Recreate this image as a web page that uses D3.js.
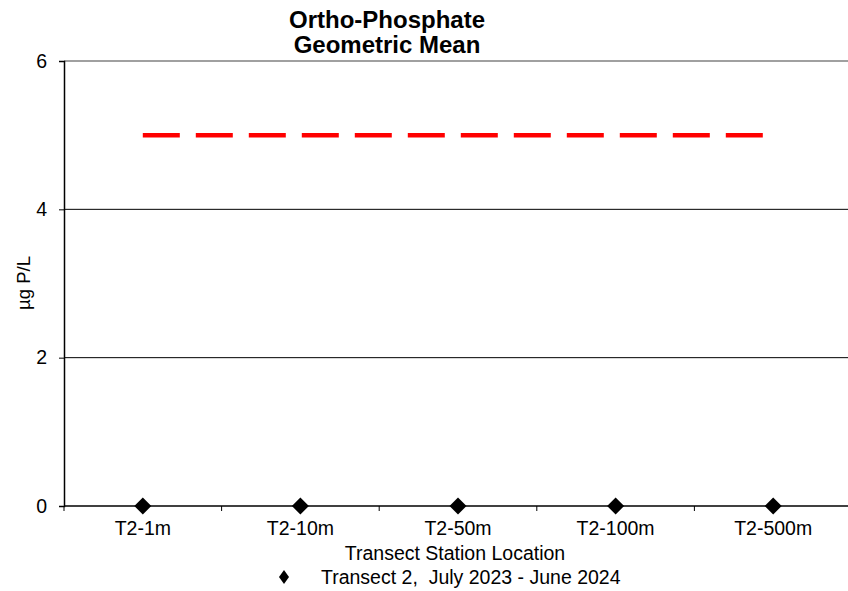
<!DOCTYPE html>
<html><head><meta charset="utf-8">
<script src="https://cdn.jsdelivr.net/npm/d3@7"></script>
<style>body{margin:0;background:#fff}svg{display:block}text{font-family:"Liberation Sans",Arial,sans-serif}</style>
</head><body>
<svg id="c" width="848" height="591"></svg>
<script>
const categories = ["T2-1m","T2-10m","T2-50m","T2-100m","T2-500m"];
const values = [0,0,0,0,0];
const thresholdValue = 5;
const yTicks = [0,2,4,6];
const seriesName = "Transect 2,  July 2023 - June 2024";

const svg = d3.select("#c");
const L=64, R=852, T=61, B=506;
const FS = 19.5;
const x = d3.scaleBand().domain(categories).range([L,R]);
const y = d3.scaleLinear().domain([0,6]).range([B,T]);

const diamondType = (hw,hh)=>({draw(ctx){ctx.moveTo(0,-hh);ctx.lineTo(hw,0);ctx.lineTo(0,hh);ctx.lineTo(-hw,0);ctx.closePath();}});

// gridlines
svg.append("g").selectAll("line").data(yTicks.filter(d=>d>0)).join("line")
  .attr("x1",L).attr("x2",848).attr("y1",d=>y(d)).attr("y2",d=>y(d))
  .attr("stroke",d=>d===6?"#808080":"#000").attr("stroke-width",d=>d===6?1.5:1);

// y axis
const ya = svg.append("g").attr("transform",`translate(${L},0)`)
  .call(d3.axisLeft(y).tickValues(yTicks).tickFormat(d3.format("d")).tickSize(5).tickPadding(12));
ya.select(".domain").attr("stroke","#000").attr("stroke-width",1.5);
ya.selectAll(".tick line").attr("stroke","#000");
ya.selectAll("text").attr("font-size",FS).attr("fill","#000").style("font-family","Liberation Sans, Arial, sans-serif");

// x axis
const xa = svg.append("g").attr("transform",`translate(0,${B})`)
  .call(d3.axisBottom(x).tickSize(0).tickPadding(15));
xa.select(".domain").remove();
xa.selectAll("text").attr("font-size",FS).attr("fill","#000").style("font-family","Liberation Sans, Arial, sans-serif");
svg.append("line").attr("x1",L).attr("x2",848).attr("y1",B).attr("y2",B).attr("stroke","#000").attr("stroke-width",1.5);
svg.append("g").selectAll("line").data(categories.concat([null])).join("line")
  .attr("x1",(d,i)=>L+i*x.bandwidth()).attr("x2",(d,i)=>L+i*x.bandwidth())
  .attr("y1",B).attr("y2",B+5).attr("stroke","#000");

// threshold dashed line
const cx = d=>x(d)+x.bandwidth()/2;
svg.append("line")
  .attr("x1",cx(categories[0])).attr("x2",cx(categories[categories.length-1]))
  .attr("y1",y(thresholdValue)).attr("y2",y(thresholdValue))
  .attr("stroke","#ff0000").attr("stroke-width",4.5).attr("stroke-dasharray","37,16");

// points
const diamond = d3.symbol().type(diamondType(8.5,8.5));
svg.append("g").selectAll("path").data(values).join("path")
  .attr("d",diamond)
  .attr("transform",(d,i)=>`translate(${cx(categories[i])},${y(d)})`)
  .attr("fill","#000");

// title
svg.append("text").attr("x",387).attr("y",27.5).attr("text-anchor","middle")
  .attr("font-size",24).attr("font-weight","bold").text("Ortho-Phosphate");
svg.append("text").attr("x",387).attr("y",52.5).attr("text-anchor","middle")
  .attr("font-size",24).attr("font-weight","bold").text("Geometric Mean");

// y label
svg.append("text").attr("transform","translate(30,283) rotate(-90)").attr("text-anchor","middle")
  .attr("font-size",18.5).text("µg P/L");

// x label
svg.append("text").attr("x",455).attr("y",560).attr("text-anchor","middle")
  .attr("font-size",FS).text("Transect Station Location");

// legend
svg.append("path").attr("d",d3.symbol().type(diamondType(5,7))).attr("transform","translate(284,577)").attr("fill","#000");
svg.append("text").attr("x",321).attr("y",584).attr("font-size",FS).style("white-space","pre").text(seriesName);
</script>
</body></html>
